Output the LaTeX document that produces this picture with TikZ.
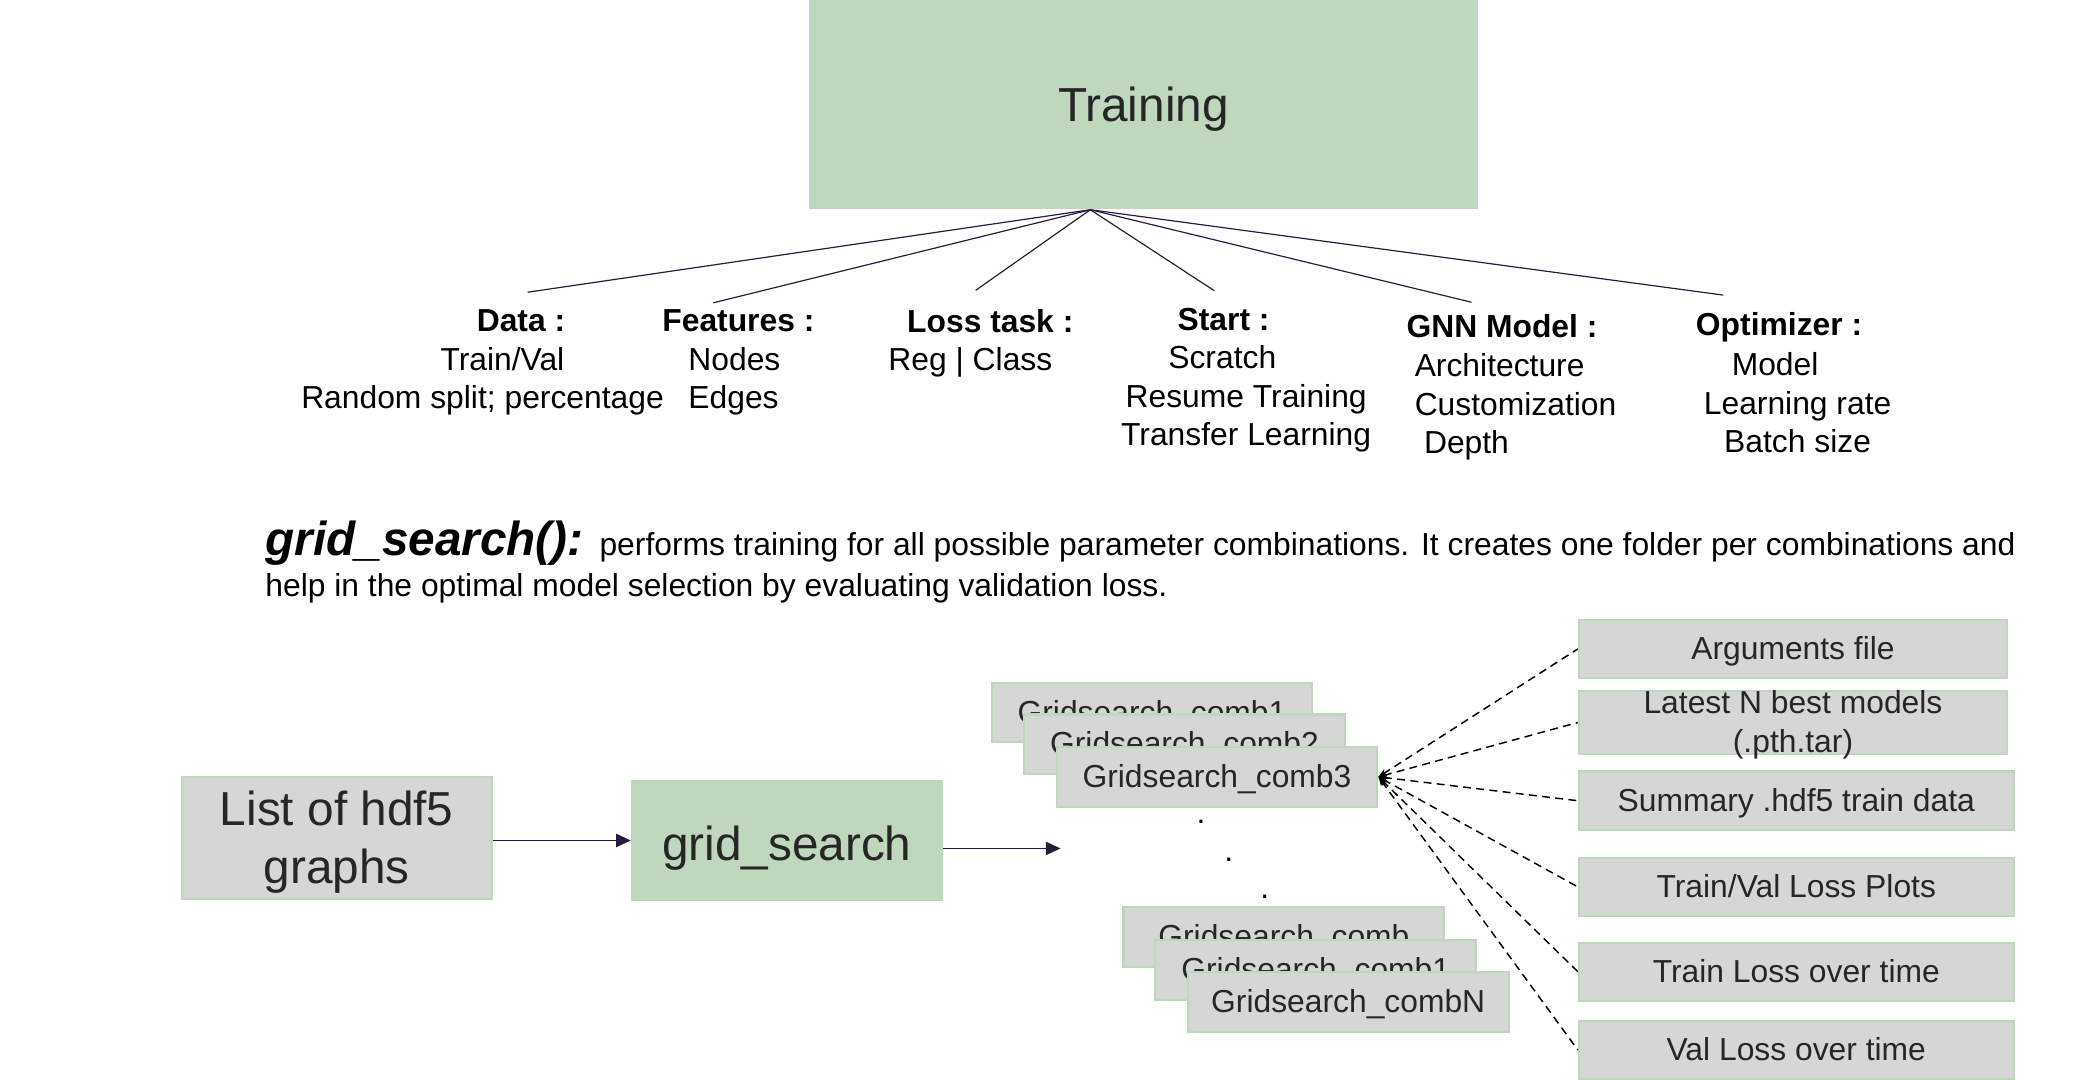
\documentclass[tikz,border=0pt]{standalone}
\usepackage{fontspec}
\setmainfont{Liberation Sans}
\usetikzlibrary{arrows.meta}

\definecolor{boxgreen}{RGB}{191,216,189}
\definecolor{boxgray}{RGB}{214,214,214}
\definecolor{linkcol}{RGB}{40,28,62}
\definecolor{boxtext}{RGB}{38,38,38}

\tikzset{
  greenbox/.style={fill=boxgreen, inner sep=0pt, text=boxtext, align=center},
  graybox/.style={fill=boxgray, draw=boxgreen, line width=1.6pt, inner sep=0pt, text=boxtext, align=center},
  combbox/.style={graybox, minimum width=242pt, minimum height=45pt, text height=17pt, text depth=1pt, font=\fontsize{24}{29}\selectfont},
  outbox/.style={graybox, minimum height=44pt, text height=17pt, text depth=1pt, font=\fontsize{24}{29}\selectfont},
  head/.style={inner sep=0pt, font=\fontsize{24}{29}\selectfont\bfseries},
  body/.style={inner sep=0pt, font=\fontsize{24}{29}\selectfont},
  link/.style={draw=linkcol, line width=0.9pt},
  flow/.style={link, -{Triangle[length=11pt,width=10pt]}},
  fanout/.style={line width=1.1pt, dash pattern=on 6pt off 4pt, {Stealth[length=7pt]}-}
}

\begin{document}
\begin{tikzpicture}[x=1pt,y=1pt,yscale=-1]
\useasboundingbox (0,0) rectangle (1566,814);

% Training node and its settings
\node[greenbox, minimum width=505pt, minimum height=158pt, text height=26pt, text depth=0pt, font=\fontsize{36}{40}\selectfont] (train) at (862.5,79) {Training};
\coordinate (apex) at ([xshift=-40pt]train.south);

\node[head] (data) at (393,242) {Data :};
\node[body, align=center] (databody) at (364,287.5) {\hspace*{30pt}Train/Val\\Random split; percentage};
\node[head] (feat) at (557,242) {Features :};
\node[body, align=left] (featbody) at (554,287.5) {Nodes\\Edges};
\node[head] (loss) at (747,242) {Loss task :};
\node[body] (lossbody) at (732,273) {Reg | Class};
\node[head] (start) at (923,241) {Start :};
\node[body, align=center] (startbody) at (940,301) {Scratch\hspace*{36pt}\\Resume Training\\Transfer Learning};
\node[head] (gnn) at (1133,246) {GNN Model :};
\node[body, align=left, anchor=west] (gnnbody) at (1067,307) {Architecture\\Customization\\\hspace*{7pt}Depth};
\node[head] (opt) at (1342,247) {Optimizer :};
\node[body, align=center] (optbody) at (1356,304) {Model\hspace*{34pt}\\Learning rate\\Batch size};

\draw[link] (apex) -- ([xshift=5pt,yshift=-13pt]data.north);
\draw[link] (apex) -- ([xshift=-19pt,yshift=-5pt]feat.north);
\draw[link] (apex) -- ([xshift=-11pt,yshift=-14pt]loss.north);
\draw[link] (apex) -- ([xshift=-7pt,yshift=-13pt]start.north);
\draw[link] (apex) -- ([xshift=-23pt,yshift=-9pt]gnn.north);
\draw[link] (apex) -- ([xshift=-42pt,yshift=-13pt]opt.north);

% description
\node[anchor=base west, inner sep=0pt] (desc) at (200,419) {{\fontsize{36}{40}\selectfont\bfseries\itshape grid\_search():}\hspace{12pt}\fontsize{24}{28}\selectfont performs training for all possible parameter combinations. It creates one folder per combinations and};
\node[anchor=base west, inner sep=0pt, font=\fontsize{24}{28}\selectfont] (desc2) at (200,450) {help in the optimal model selection by evaluating validation loss.};

% grid search flow
\node[graybox, minimum width=234pt, minimum height=92pt, text height=70pt, text depth=1pt, font=\fontsize{36}{44}\selectfont] (graphs) at (254,632) {List of hdf5\\graphs};
\node[greenbox, minimum width=235pt, minimum height=92pt, text height=30pt, text depth=0pt, font=\fontsize{36}{44}\selectfont] (grid) at (593.5,634) {grid\_search};
\coordinate (gsend) at (800,640);
\draw[flow] (graphs.east |- grid.west) -- (grid.west);
\draw[flow] (grid.east |- gsend) -- (gsend);

\node[combbox] (comb1) at (869,537.5) {Gridsearch\_comb1};
\node[combbox] (comb2) at (893.5,561.5) {Gridsearch\_comb2};
\node[combbox] (comb3) at (918,586) {Gridsearch\_comb3};
\node[body, anchor=base] (dot1) at (906,621) {.};
\node[body, anchor=base] (dot2) at (927,650) {.};
\node[body, anchor=base] (dot3) at (954,678) {.};
\node[combbox] (combA) at (968.5,707) {Gridsearch\_comb};
\node[combbox] (combB) at (992.5,731.5) {Gridsearch\_comb1};
\node[combbox] (combN) at (1017,756) {Gridsearch\_combN};

% outputs per combination
\node[outbox, minimum width=323pt] (args) at (1352.5,489.5) {Arguments file};
\node[outbox, minimum width=323pt, minimum height=46pt, text height=46pt] (best) at (1352.5,545) {Latest N best models\\(.pth.tar)};
\node[outbox, minimum width=328pt] (summ) at (1355,604) {Summary .hdf5 train data};
\node[outbox, minimum width=328pt] (plots) at (1355,669) {Train/Val Loss Plots};
\node[outbox, minimum width=328pt] (trainl) at (1355,733) {Train Loss over time};
\node[outbox, minimum width=328pt] (vall) at (1355,792) {Val Loss over time};

\foreach \b in {args,best,summ,plots,trainl,vall}
  \draw[fanout] (comb3.east) -- (\b.west);

\end{tikzpicture}
\end{document}
